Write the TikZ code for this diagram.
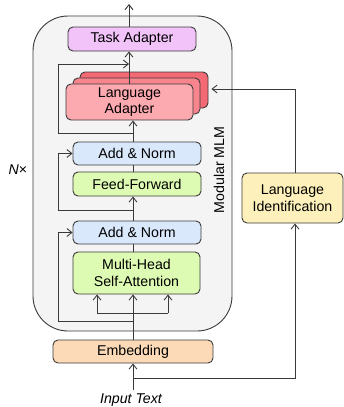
\documentclass[tikz,border=0pt]{standalone}
\usepackage{fontspec}
\setmainfont{Liberation Sans}
\usetikzlibrary{arrows.meta,positioning}

\definecolor{taskc}{HTML}{F2C3F9}
\definecolor{langa}{HTML}{FCA9B0}
\definecolor{langb}{HTML}{F8858E}
\definecolor{langc}{HTML}{F36A74}
\definecolor{addc}{HTML}{DAE8FC}
\definecolor{ffc}{HTML}{DDFBB2}
\definecolor{embc}{HTML}{FCDAB8}
\definecolor{lidc}{HTML}{FDF0BA}
\definecolor{modc}{HTML}{F4F4F4}
\definecolor{linec}{HTML}{3A3A3A}

\begin{document}
\begin{tikzpicture}[x=1pt,y=-1pt,
  blk/.style={draw=linec,line width=0.9pt,rounded corners=5pt,inner sep=0pt,
    align=center,font=\fontsize{14.2}{16.5}\selectfont},
  conn/.style={draw=linec,line width=0.9pt},
  arr/.style={conn,-{Straight Barb[length=5pt,width=8pt]}}
]
\useasboundingbox (0,0) rectangle (344,407);

% module box
\draw[draw=linec,line width=0.9pt,fill=modc,rounded corners=35pt] (33,16) rectangle (232,331);
\node[rotate=90,font=\fontsize{14.2}{16.5}\selectfont] (mlm) at (219,170) {Modular MLM};
\node[font=\fontsize{14.2}{16.5}\selectfont] (nx) at (18,170) {\textit{N}×};

% blocks
\node[blk,fill=taskc,minimum width=128pt,minimum height=24pt] (task) at (132,39) {Task Adapter};
\node[blk,fill=langc,minimum width=128pt,minimum height=36pt] (la3) at (144,90) {};
\node[blk,fill=langb,minimum width=127pt,minimum height=36pt] (la2) at (136.5,96) {};
\node[blk,fill=langa,minimum width=127pt,minimum height=36pt] (la1) at (129.5,102) {Language\\Adapter};
\node[blk,fill=addc,minimum width=128pt,minimum height=23pt] (an2) at (137,153.5) {Add \& Norm};
\node[blk,fill=ffc,minimum width=128pt,minimum height=24pt] (ff) at (137,184) {Feed-Forward};
\node[blk,fill=addc,minimum width=128pt,minimum height=23pt] (an1) at (137,232.5) {Add \& Norm};
\node[blk,fill=ffc,minimum width=127pt,minimum height=42pt] (mhsa) at (136.5,273) {Multi-Head\\Self-Attention};
\node[blk,fill=embc,minimum width=160pt,minimum height=23pt] (emb) at (133,351.5) {Embedding};
\node[blk,fill=lidc,minimum width=101pt,minimum height=50pt] (lid) at (292.5,198) {Language\\Identification};
\node[font=\fontsize{14.2}{16.5}\selectfont\itshape] (input) at (131,400) {Input Text};

% routing points
\coordinate (out) at (129,4);
\coordinate (s1) at (133,133);
\coordinate (s2) at (133,210);
\coordinate (s3) at (133,321);
\coordinate (ql) at (97,313);
\coordinate (qr) at (168,313);
\coordinate (lidsplit) at (133,378);
\coordinate (lidcol) at (295,378);
\coordinate (lidturn) at (295,89);

% main path
\draw[arr] (task.north -| out) -- (out);
\draw[arr] (la1.north -| out) -- (task.south -| out);
\draw[arr] (an2.north -| s1) -- (la1.south -| s1);
\draw[conn] (ff.north -| s1) -- (an2.south -| s1);
\draw[arr] (an1.north -| s1) -- (ff.south -| s1);
\draw[conn] (mhsa.north -| s1) -- (an1.south -| s1);
\draw[arr] (emb.north -| s1) -- (mhsa.south -| s1);
\draw[conn] (ql) -- (qr);
\draw[arr] (ql) -- (mhsa.south -| ql);
\draw[arr] (qr) -- (mhsa.south -| qr);

% residuals
\draw[arr] (s1) -- (58,133) -- (58,64) -- (129,64);
\draw[arr] (s2) -- (58,210) -- (58,153.5) -- (an2.west);
\draw[arr] (s3) -- (58,321) -- (58,232.5) -- (an1.west);

% input and language id
\draw[arr] (input.north -| emb.south) -- (emb.south);
\draw[arr] (lidsplit) -- (lidcol) -- (lid.south -| lidcol);
\draw[arr,shorten >=3pt] (lid.north -| lidturn) -- (lidturn) -- (lidturn -| la3.east);
\end{tikzpicture}
\end{document}
